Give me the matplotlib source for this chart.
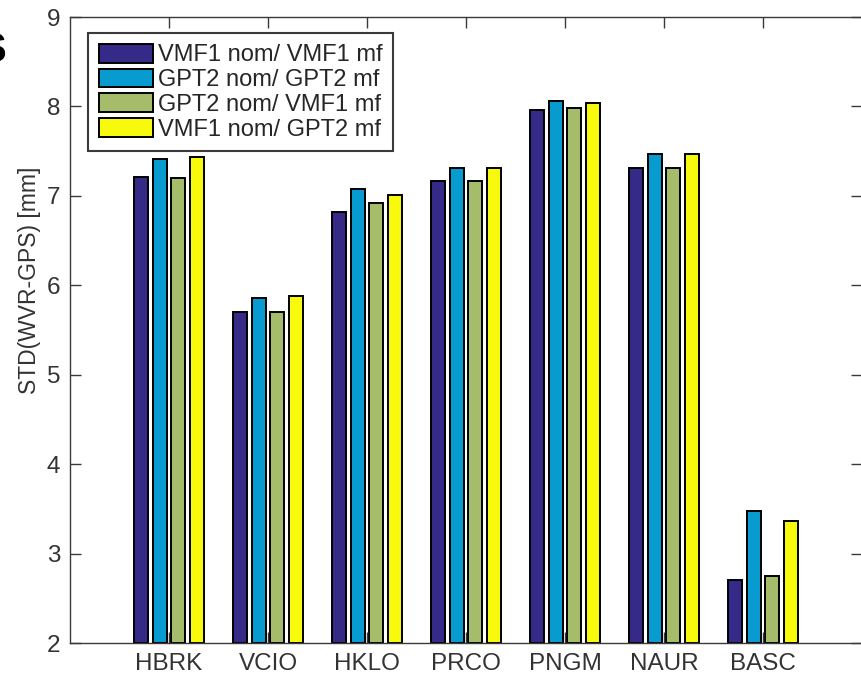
import numpy as np
import matplotlib
matplotlib.use("Agg")
import matplotlib.pyplot as plt

# ── Data ─────────────────────────────────────────────────────────────── #
stations = ["HBRK", "VCIO", "HKLO", "PRCO", "PNGM", "NAUR", "BASC"]
series_labels = ["VMF1 nom/ VMF1 mf", "GPT2 nom/ GPT2 mf",
                 "GPT2 nom/ VMF1 mf", "VMF1 nom/ GPT2 mf"]
vmf1_vmf1 = [7.21, 5.70, 6.82, 7.17, 7.96, 7.31, 2.70]
gpt2_gpt2 = [7.41, 5.86, 7.08, 7.31, 8.06, 7.47, 3.48]
gpt2_vmf1 = [7.20, 5.70, 6.92, 7.17, 7.98, 7.31, 2.75]
vmf1_gpt2 = [7.43, 5.88, 7.01, 7.31, 8.04, 7.47, 3.36]
colors = ["#352A87", "#079BCF", "#A5BD6A", "#F8FA0D"]

plt.rcParams["font.family"] = ["Liberation Sans", "DejaVu Sans"]

fig = plt.figure(figsize=(8.61, 6.74), dpi=100)
ax = fig.add_axes([70 / 861, 1 - 643 / 674, 792 / 861, 626 / 674])

x = np.arange(1, len(stations) + 1)
offsets = [-0.28, -0.094, 0.094, 0.28]
all_series = [vmf1_vmf1, gpt2_gpt2, gpt2_vmf1, vmf1_gpt2]
for vals, off, col, lab in zip(all_series, offsets, colors, series_labels):
    ax.bar(x + off, np.array(vals) - 2, bottom=2, width=0.14, color=col,
           edgecolor="black", linewidth=1.4, label=lab)

ax.set_xlim(0, 8)
ax.set_ylim(2, 9)
ax.set_xticks(x)
ax.set_xticklabels(stations)
ax.set_yticks(range(2, 10))

axis_col = "#3a3a3a"
for sp in ax.spines.values():
    sp.set_color(axis_col)
    sp.set_linewidth(1.0)
ax.tick_params(direction="in", length=8, width=1, top=True, right=True,
               colors=axis_col, labelsize=17.5, labelcolor="#333333", pad=7)

ax.set_ylabel("STD(WVR-GPS) [mm]", fontsize=16.5, color="#333333")
ax.yaxis.set_label_coords(-0.036, 0.58)

leg = ax.legend(loc="upper left", bbox_to_anchor=(0.0227, 0.974),
                borderaxespad=0, fontsize=17, handlelength=2.3,
                handleheight=0.85, handletextpad=0.2, labelspacing=0.09,
                borderpad=0.45, fancybox=False, framealpha=1)
leg.get_frame().set_edgecolor("#3a3a3a")
leg.get_frame().set_linewidth(1.5)
for t in leg.get_texts():
    t.set_color("#262626")

# panel letter, cut off by the left edge as in the source figure
fig.text(7 / 861, 1 - 62 / 674, "S", fontsize=30, fontweight="bold",
         ha="right", va="baseline", color="black")

fig.savefig("out.png", dpi=100)
